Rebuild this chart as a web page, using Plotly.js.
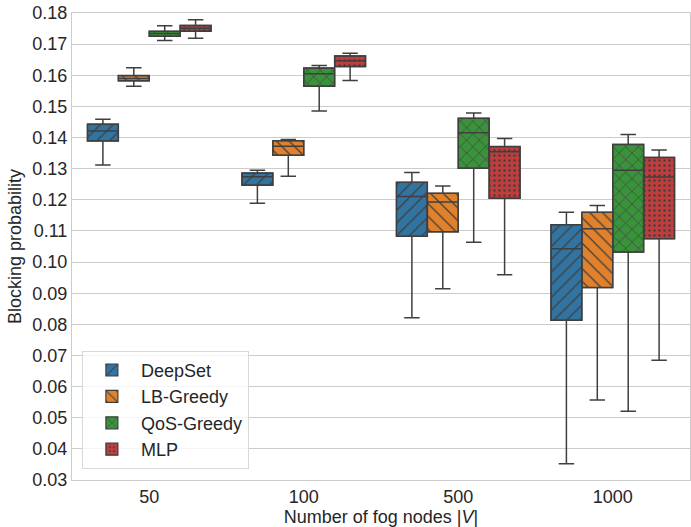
<!DOCTYPE html>
<html>
<head>
<meta charset="utf-8">
<script src="https://cdn.plot.ly/plotly-3.0.1.min.js"></script>
<style>html,body{margin:0;padding:0;background:#fff;}#chart{width:691px;height:527px;}</style>
</head>
<body>
<div id="chart"></div>
<script>
// Categories (x axis)
const categories = ['50', '100', '500', '1000'];
const seriesNames = ['DeepSet', 'LB-Greedy', 'QoS-Greedy', 'MLP'];

// Box statistics per series, one value per category
const deepsetLow  = [0.1312, 0.1189, 0.0821, 0.0352];
const deepsetQ1   = [0.1389, 0.1247, 0.1083, 0.0813];
const deepsetMed  = [0.1421, 0.1274, 0.1211, 0.1043];
const deepsetQ3   = [0.1443, 0.1286, 0.1256, 0.1120];
const deepsetHigh = [0.1459, 0.1295, 0.1288, 0.1160];

const lbLow  = [0.1565, 0.1276, 0.0914, 0.0557];
const lbQ1   = [0.1582, 0.1343, 0.1097, 0.0918];
const lbMed  = [0.1590, 0.1372, 0.1193, 0.1107];
const lbQ3   = [0.1599, 0.1390, 0.1221, 0.1160];
const lbHigh = [0.1624, 0.1394, 0.1244, 0.1182];

const qosLow  = [0.1712, 0.1485, 0.1064, 0.0521];
const qosQ1   = [0.1725, 0.1565, 0.1301, 0.1032];
const qosMed  = [0.1734, 0.1605, 0.1415, 0.1295];
const qosQ3   = [0.1741, 0.1623, 0.1462, 0.1378];
const qosHigh = [0.1759, 0.1631, 0.1479, 0.1410];

const mlpLow  = [0.1719, 0.1583, 0.0959, 0.0685];
const mlpQ1   = [0.1741, 0.1628, 0.1205, 0.1075];
const mlpMed  = [0.1751, 0.1647, 0.1354, 0.1273];
const mlpQ3   = [0.1760, 0.1662, 0.1371, 0.1336];
const mlpHigh = [0.1778, 0.1671, 0.1397, 0.1360];

const yTickVals = [0.03,0.04,0.05,0.06,0.07,0.08,0.09,0.10,0.11,0.12,0.13,0.14,0.15,0.16,0.17,0.18];

const stats = [
  {low: deepsetLow, q1: deepsetQ1, med: deepsetMed, q3: deepsetQ3, high: deepsetHigh},
  {low: lbLow, q1: lbQ1, med: lbMed, q3: lbQ3, high: lbHigh},
  {low: qosLow, q1: qosQ1, med: qosMed, q3: qosQ3, high: qosHigh},
  {low: mlpLow, q1: mlpQ1, med: mlpMed, q3: mlpQ3, high: mlpHigh}
];
const colors = ['#3274a1', '#e1812c', '#3a923a', '#c03d3e'];
const patterns = [
  {shape: '/', size: 9, solidity: 0.14},
  {shape: '\\', size: 9, solidity: 0.14},
  {shape: 'x', size: 9, solidity: 0.14},
  {shape: '.', size: 5, solidity: 0.18}
];
const edge = '#3f3f3f';

const traces = [];
// Patterned box bodies (bars from Q1 to Q3)
stats.forEach((s, i) => {
  traces.push({
    type: 'bar',
    name: seriesNames[i],
    legendgroup: seriesNames[i],
    x: categories,
    base: s.q1,
    y: s.q3.map((v, k) => v - s.q1[k]),
    marker: {
      color: colors[i],
      line: {width: 1.2, color: edge},
      pattern: {shape: patterns[i].shape, size: patterns[i].size, solidity: patterns[i].solidity,
                fgcolor: edge, bgcolor: colors[i], fillmode: 'replace'}
    },
    hoverinfo: 'skip'
  });
});
// Box outlines, medians and whiskers
stats.forEach((s, i) => {
  traces.push({
    type: 'box',
    name: seriesNames[i],
    legendgroup: seriesNames[i],
    showlegend: false,
    x: categories,
    q1: s.q1, median: s.med, q3: s.q3,
    lowerfence: s.low, upperfence: s.high,
    boxpoints: false,
    fillcolor: 'rgba(0,0,0,0)',
    line: {color: edge, width: 1.5},
    whiskerwidth: 0.5
  });
});

const layout = {
  width: 691, height: 527,
  margin: {l: 72, r: 1, t: 13, b: 47},
  paper_bgcolor: '#ffffff', plot_bgcolor: '#ffffff',
  font: {family: 'Liberation Sans, Arial, sans-serif', size: 18, color: '#262626'},
  barmode: 'group', bargap: 0.2, bargroupgap: 0,
  boxmode: 'group', boxgap: 0.2, boxgroupgap: 0,
  showlegend: true,
  legend: {
    x: 0.016, y: 0.024, xanchor: 'left', yanchor: 'bottom',
    bgcolor: 'rgba(255,255,255,0.8)', bordercolor: '#d9d9d9', borderwidth: 1,
    font: {size: 18, color: '#262626'},
    tracegroupgap: 3, traceorder: 'normal', itemwidth: 48
  },
  xaxis: {
    type: 'category', categoryorder: 'array', categoryarray: categories,
    showgrid: false, zeroline: false,
    showline: true, linecolor: '#cccccc', linewidth: 1, mirror: true,
    ticks: '', tickfont: {size: 18, color: '#262626'},
    title: {text: 'Number of fog nodes |<i>V</i>|', font: {size: 18, color: '#262626'}, standoff: 2},
    automargin: false
  },
  yaxis: {
    range: [0.03, 0.18], tickvals: yTickVals, tickformat: '.2f',
    showgrid: true, gridcolor: '#cccccc', gridwidth: 1, zeroline: false,
    showline: true, linecolor: '#cccccc', linewidth: 1, mirror: true,
    ticks: '', tickfont: {size: 18, color: '#262626'},
    title: {text: 'Blocking probability', font: {size: 18, color: '#262626'}, standoff: 6},
    automargin: false
  }
};

Plotly.newPlot('chart', traces, layout, {displayModeBar: false, staticPlot: true});
</script>
</body>
</html>
